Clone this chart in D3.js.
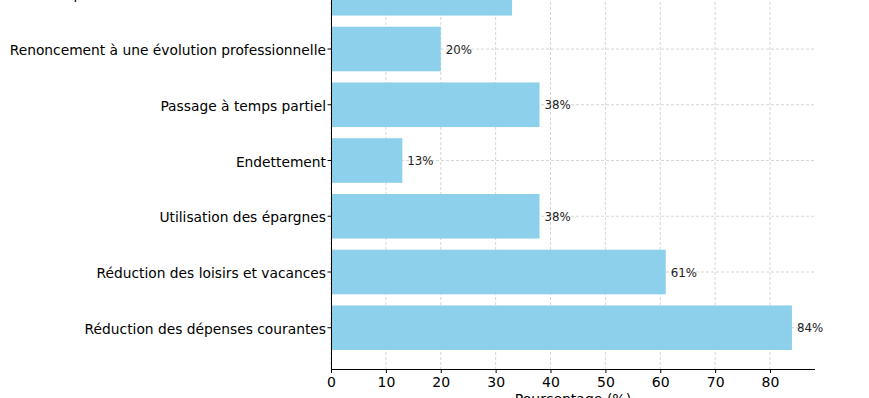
<!DOCTYPE html>
<html lang="fr">
<head>
  <meta charset="UTF-8">
  <title>Conséquences financières</title>
  <script src="https://d3js.org/d3.v7.min.js"></script>
  <style>
    body { margin: 0; background: #fff; }
    text { font-family: 'DejaVu Sans', sans-serif; }
    .grid line { stroke: #cccccc; stroke-width: 0.8; stroke-dasharray: 3,2; }
    .axis path, .axis line { stroke: #000; }
    .axis text { fill: #000; font-size: 14px; }
  </style>
</head>
<body>
  <svg width="869" height="398"></svg>

  <script>
    // Data (top to bottom)
    const categories = [
      "Emprunts à la famille ou à des relations",
      "Renoncement à une évolution professionnelle",
      "Passage à temps partiel",
      "Endettement",
      "Utilisation des épargnes",
      "Réduction des loisirs et vacances",
      "Réduction des dépenses courantes"
    ];
    const values = [33, 20, 38, 13, 38, 61, 84];
    const xTicks = [0, 10, 20, 30, 40, 50, 60, 70, 80];

    const svg = d3.select("svg");
    // plot area is partly above the visible picture (cropped figure)
    const plotLeft = 331, plotRight = 815, plotTop = -48, plotBottom = 369;

    const x = d3.scaleLinear()
      .domain([0, d3.max(values) * 1.05])
      .range([plotLeft, plotRight]);

    const y = d3.scaleBand()
      .domain(categories)
      .range([plotTop, plotBottom])
      .paddingInner(0.2)
      .paddingOuter(0.34);

    // Grid
    const grid = svg.append("g").attr("class", "grid");
    grid.selectAll(".vx")
      .data(xTicks)
      .enter().append("line")
      .attr("x1", d => x(d)).attr("x2", d => x(d))
      .attr("y1", plotTop).attr("y2", plotBottom);
    grid.selectAll(".hy")
      .data(categories)
      .enter().append("line")
      .attr("x1", plotLeft).attr("x2", plotRight)
      .attr("y1", d => y(d) + y.bandwidth() / 2)
      .attr("y2", d => y(d) + y.bandwidth() / 2);

    // Bars
    svg.selectAll(".bar")
      .data(categories)
      .enter().append("rect")
      .attr("class", "bar")
      .attr("x", x(0))
      .attr("y", d => y(d))
      .attr("height", y.bandwidth())
      .attr("width", (d, i) => x(values[i]) - x(0))
      .attr("fill", "#87ceeb")
      .attr("fill-opacity", 0.95);

    // Value labels
    svg.selectAll(".val")
      .data(categories)
      .enter().append("text")
      .attr("x", (d, i) => x(values[i]) + 5)
      .attr("y", d => y(d) + y.bandwidth() / 2)
      .attr("dy", "0.4em")
      .style("font-size", "11.8px")
      .style("fill", "#222")
      .text((d, i) => values[i] + "%");

    // Axes
    svg.append("g")
      .attr("class", "axis")
      .attr("transform", "translate(0," + plotBottom + ")")
      .call(d3.axisBottom(x).tickValues(xTicks).tickSize(4).tickPadding(4).tickSizeOuter(0))
      .call(g => g.select(".domain").attr("d", "M" + plotLeft + ",0.5H" + plotRight));

    svg.append("g")
      .attr("class", "axis")
      .attr("transform", "translate(" + plotLeft + ",0)")
      .call(d3.axisLeft(y).tickSize(3.5).tickPadding(1.5).tickSizeOuter(0))
      .call(g => g.select(".domain").attr("d", "M0.5," + plotTop + "V" + plotBottom))
      .call(g => g.selectAll(".tick text").attr("dy", "0.45em").style("font-size", "13.8px"));

    // X label
    svg.append("text")
      .attr("x", (plotLeft + plotRight) / 2)
      .attr("y", 404)
      .attr("text-anchor", "middle")
      .style("font-size", "14px")
      .style("fill", "#000")
      .text("Pourcentage (%)");
  </script>
</body>
</html>
